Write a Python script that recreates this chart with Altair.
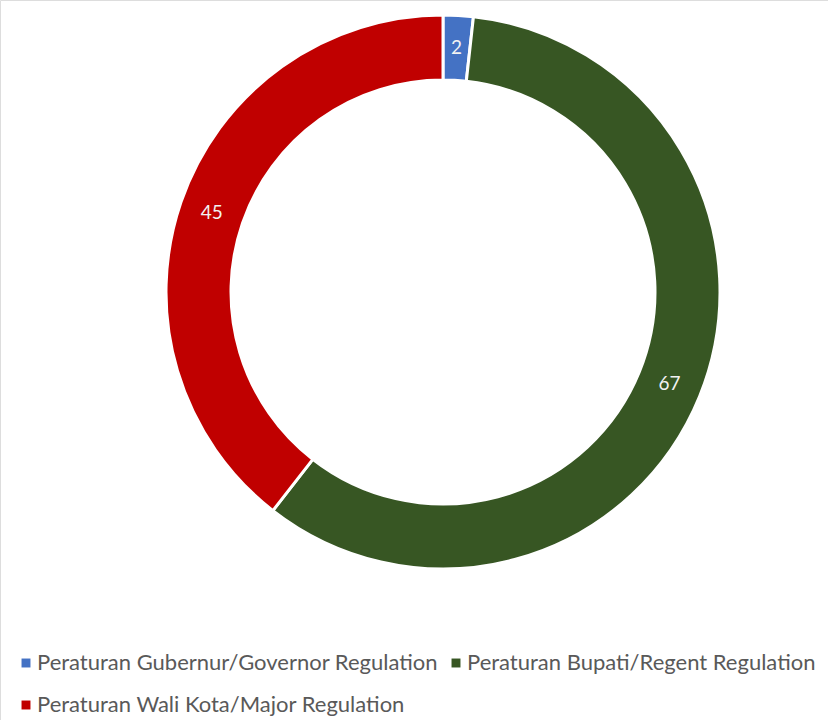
import altair as alt
import pandas as pd

categories = [
    "Peraturan Gubernur/Governor Regulation",
    "Peraturan Bupati/Regent Regulation",
    "Peraturan Wali Kota/Major Regulation",
]
values = [2, 67, 45]
colors = ["#4472C4", "#375623", "#C00000"]

df = pd.DataFrame({"cat": categories, "val": values, "idx": [0, 1, 2]})

CX, CY = 443, 292
R_OUT, R_IN = 277, 212
FONT = "Lato"

base = alt.Chart(df).encode(
    theta=alt.Theta("val:Q", stack=True),
    order=alt.Order("idx:O"),
    x=alt.value(CX),
    y=alt.value(CY),
)

arcs = base.mark_arc(
    outerRadius=R_OUT, innerRadius=R_IN, stroke="white", strokeWidth=3
).encode(
    color=alt.Color(
        "cat:N",
        scale=alt.Scale(domain=categories, range=colors),
        sort=categories,
        legend=alt.Legend(
            title=None,
            orient="none",
            direction="horizontal",
            legendX=15,
            legendY=652,
            columns=2,
            symbolType="square",
            symbolSize=80,
            symbolStrokeWidth=0,
            labelFont=FONT,
            labelFontSize=22,
            labelColor="#595959",
            labelOffset=0,
            rowPadding=20,
            columnPadding=6,
            labelLimit=500,
        ),
    )
)

labels = base.mark_text(
    radius=(R_OUT + R_IN) / 2, font=FONT, fontSize=19, color="#F2F2F2"
).encode(text="val:Q")

chart = (
    (arcs + labels)
    .properties(width=828, height=720, autosize=alt.AutoSizeParams(type="none"), padding=0)
    .configure_view(stroke=None)
    .configure(background="white")
)

chart.save("out.html", embed_options={"renderer": "svg", "actions": False})
